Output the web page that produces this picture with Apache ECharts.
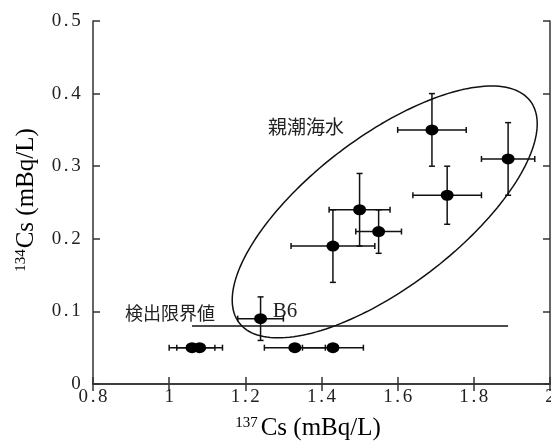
<!DOCTYPE html>
<html>
<head>
<meta charset="utf-8">
<script src="https://cdn.jsdelivr.net/npm/echarts/dist/echarts.min.js"></script>
<style>
  html, body { margin: 0; padding: 0; background: #fff; }
  #chart { width: 551px; height: 446px; }
</style>
</head>
<body>
<div id="chart"></div>
<script>
  // 137Cs / 134Cs measurements with error bars
  const cs137 = [1.06, 1.08, 1.33, 1.43, 1.24, 1.43, 1.50, 1.55, 1.69, 1.73, 1.89]
  const cs134 = [0.05, 0.05, 0.05, 0.05, 0.09, 0.19, 0.24, 0.21, 0.35, 0.26, 0.31]
  const cs137Err = [0.06, 0.06, 0.08, 0.08, 0.06, 0.11, 0.08, 0.06, 0.09, 0.09, 0.07]
  const cs134Err = [0, 0, 0, 0, 0.03, 0.05, 0.05, 0.03, 0.05, 0.04, 0.05]

  // detection limit line
  const limitX = [1.06, 1.89]
  const limitY = 0.08

  // ellipse around the Oyashio samples (center in data units, radii in px, tilt in deg)
  const ellipseCenter = [1.566, 0.237]
  const ellipseRadius = [183, 75]
  const ellipseTilt = 37.3

  const serif = '"Liberation Serif", "Times New Roman", serif'
  const jp = '"Noto Sans CJK JP", sans-serif'
  const ink = '#111'

  const spaced = v => String(v).split('').map(ch => '{c|' + ch + '}').join('')
  const tickLabel = {
    fontFamily: serif, fontSize: 19, color: '#222',
    formatter: spaced,
    rich: { c: { fontFamily: serif, fontSize: 19, color: '#222', padding: [0, 1.3] } }
  }
  const frameLine = { lineStyle: { color: '#333', width: 1.5 } }
  const innerTick = { inside: true, length: 7, lineStyle: { color: '#333', width: 1.5 } }

  const chart = echarts.init(document.getElementById('chart'))
  chart.setOption({
    animation: false,
    grid: { left: 93, right: 1, top: 21, bottom: 62, containLabel: false, outerBoundsMode: 'none' },
    xAxis: [{
      type: 'value', min: 0.8, max: 2, interval: 0.2,
      axisLine: frameLine, axisTick: innerTick,
      axisLabel: Object.assign({ margin: 4 }, tickLabel),
      splitLine: { show: false }
    }, {
      type: 'value', position: 'top', min: 0.8, max: 2, interval: 0.2,
      axisLine: frameLine, axisTick: innerTick,
      axisLabel: { show: false }, splitLine: { show: false }
    }],
    yAxis: [{
      type: 'value', min: 0, max: 0.5, interval: 0.1,
      axisLine: frameLine, axisTick: innerTick,
      axisLabel: Object.assign({ margin: 11 }, tickLabel),
      splitLine: { show: false }
    }, {
      type: 'value', position: 'right', min: 0, max: 0.5, interval: 0.1,
      axisLine: frameLine, axisTick: innerTick,
      axisLabel: { show: false }, splitLine: { show: false }
    }],
    graphic: [{
      type: 'text', x: 308, y: 428,
      style: {
        text: '{s|137}{m|Cs (mBq/L)}', align: 'center', verticalAlign: 'middle',
        rich: {
          s: { fontFamily: serif, fontSize: 15, color: '#222', verticalAlign: 'top', padding: [0, 3, 10, 0] },
          m: { fontFamily: serif, fontSize: 25, color: '#222' }
        }
      }
    }, {
      type: 'text', x: 26, y: 200, rotation: Math.PI / 2,
      style: {
        text: '{s|134}{m|Cs (mBq/L)}', align: 'center', verticalAlign: 'middle',
        rich: {
          s: { fontFamily: serif, fontSize: 15, color: '#222', padding: [0, 1, 10, 0] },
          m: { fontFamily: serif, fontSize: 25, color: '#222' }
        }
      }
    }, {
      type: 'text', x: 306, y: 127,
      style: { text: '親潮海水', font: '19px ' + jp, fill: '#222', align: 'center', verticalAlign: 'middle' }
    }, {
      type: 'text', x: 170, y: 313,
      style: { text: '検出限界値', font: '18px ' + jp, fill: '#222', align: 'center', verticalAlign: 'middle' }
    }, {
      type: 'text', x: 285, y: 311,
      style: { text: 'B6', font: '21px ' + serif, fill: '#222', align: 'center', verticalAlign: 'middle' }
    }],
    series: [{
      type: 'line',
      data: limitX.map(x => [x, limitY]),
      symbol: 'none',
      lineStyle: { color: ink, width: 1.5 },
      silent: true
    }, {
      id: 'ellipse',
      type: 'line',
      data: [],
      symbol: 'none',
      lineStyle: { color: ink, width: 1.5 },
      silent: true
    }, {
      type: 'custom',
      data: cs137.map((x, i) => [x, cs134[i], cs137Err[i], cs134Err[i]]),
      renderItem(params, api) {
        const x = api.value(0), y = api.value(1), xe = api.value(2), ye = api.value(3)
        const cap = 3
        const style = { stroke: ink, lineWidth: 1.5 }
        const l = api.coord([x - xe, y])
        const r = api.coord([x + xe, y])
        const kids = [
          { type: 'line', shape: { x1: l[0], y1: l[1], x2: r[0], y2: r[1] }, style },
          { type: 'line', shape: { x1: l[0], y1: l[1] - cap, x2: l[0], y2: l[1] + cap }, style },
          { type: 'line', shape: { x1: r[0], y1: r[1] - cap, x2: r[0], y2: r[1] + cap }, style }
        ]
        if (ye > 0) {
          const t = api.coord([x, y + ye])
          const b = api.coord([x, y - ye])
          kids.push(
            { type: 'line', shape: { x1: t[0], y1: t[1], x2: b[0], y2: b[1] }, style },
            { type: 'line', shape: { x1: t[0] - cap, y1: t[1], x2: t[0] + cap, y2: t[1] }, style },
            { type: 'line', shape: { x1: b[0] - cap, y1: b[1], x2: b[0] + cap, y2: b[1] }, style }
          )
        }
        return { type: 'group', children: kids }
      },
      z: 3
    }, {
      type: 'scatter',
      data: cs137.map((x, i) => [x, cs134[i]]),
      symbol: 'circle',
      symbolSize: [13, 11],
      itemStyle: { color: '#000', opacity: 1 },
      z: 4
    }]
  })

  // ellipse outline, built in pixel space so the tilt matches the picture
  const finder = { xAxisIndex: 0, yAxisIndex: 0 }
  const c = chart.convertToPixel(finder, ellipseCenter)
  const th = ellipseTilt * Math.PI / 180
  const ring = []
  for (let k = 0; k <= 180; k++) {
    const t = k / 180 * Math.PI * 2
    const ex = ellipseRadius[0] * Math.cos(t), ey = ellipseRadius[1] * Math.sin(t)
    const px = c[0] + ex * Math.cos(th) - ey * Math.sin(th)
    const py = c[1] - (ex * Math.sin(th) + ey * Math.cos(th))
    ring.push(chart.convertFromPixel(finder, [px, py]))
  }
  chart.setOption({ series: [{ id: 'ellipse', data: ring }] })
</script>
</body>
</html>
